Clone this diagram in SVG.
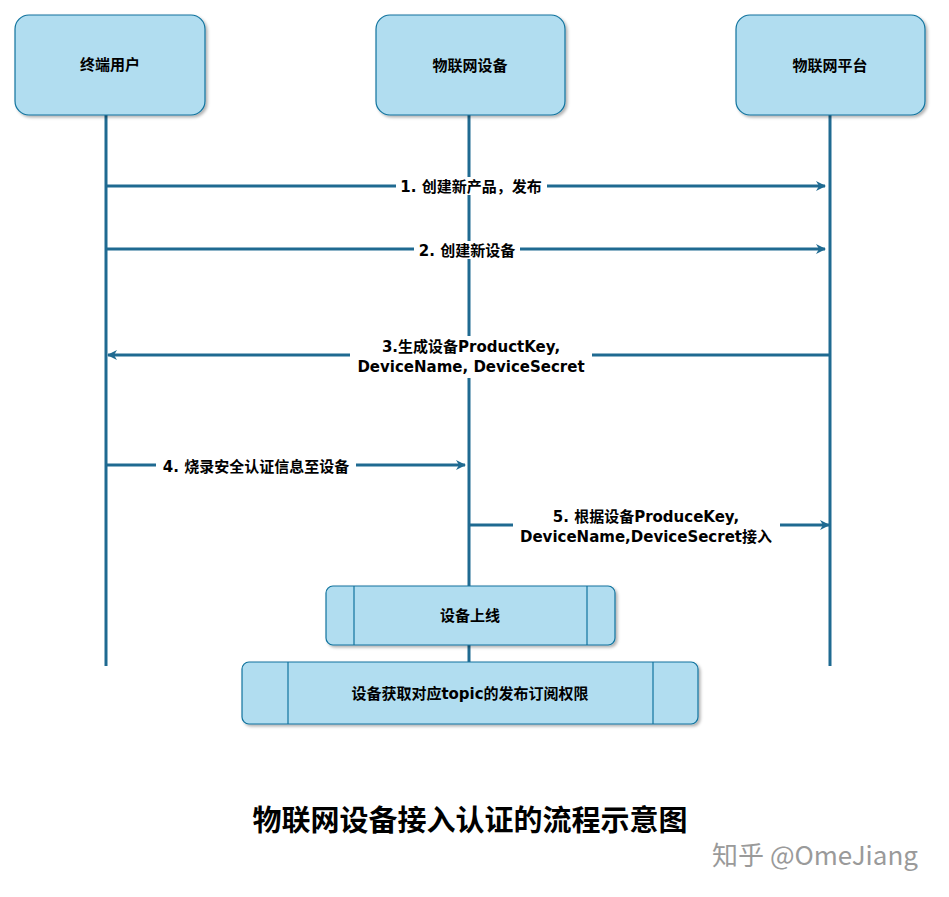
<svg xmlns="http://www.w3.org/2000/svg" width="949" height="897" viewBox="0 0 949 897">
<defs>
<marker id="ah" viewBox="0 0 10 10" refX="9" refY="5" markerWidth="10" markerHeight="10" markerUnits="userSpaceOnUse" orient="auto"><path d="M0,0 L10,5 L0,10 L3,5 z" fill="#1f6a91"/></marker>
<filter id="sh" x="-10%" y="-10%" width="120%" height="130%"><feDropShadow dx="2" dy="2" stdDeviation="1.5" flood-color="#000" flood-opacity="0.3"/></filter>
</defs>
<style>
.box{fill:#b1ddf0;stroke:#10739e;stroke-width:1.2;filter:url(#sh)}
.life{stroke:#1f6a91;stroke-width:3;fill:none}
.msg{stroke:#1f6a91;stroke-width:3;fill:none;marker-end:url(#ah)}
.t{font-family:"DejaVu Sans","Noto Sans CJK SC",sans-serif;font-weight:bold;font-size:15px;fill:#000;text-anchor:middle}
.lb{fill:#fff}
.in{stroke:#10739e;stroke-width:1.2}
</style>
<rect width="949" height="897" fill="#fff"/>
<g id="lifelines">
<line class="life" x1="106" y1="115" x2="106" y2="666"/>
<line class="life" x1="469" y1="115" x2="469" y2="662"/>
<line class="life" x1="830" y1="115" x2="830" y2="666"/>
</g>
<g id="n1"><rect class="box" x="15" y="15" width="190" height="100" rx="14"/><text class="t" x="110" y="70">终端用户</text></g>
<g id="n2"><rect class="box" x="376" y="15" width="189" height="100" rx="14"/><text class="t" x="470" y="71">物联网设备</text></g>
<g id="n3"><rect class="box" x="736" y="15" width="189" height="100" rx="14"/><text class="t" x="830" y="71">物联网平台</text></g>
<g id="connectors">
<line class="msg" x1="106" y1="186" x2="825" y2="186"/>
<line class="msg" x1="106" y1="249" x2="825" y2="249"/>
<line class="msg" x1="830" y1="355" x2="108" y2="355"/>
<line class="msg" x1="106" y1="465" x2="465" y2="465"/>
<line class="msg" x1="469" y1="525" x2="829" y2="525"/>
<rect class="lb" x="396" y="177" width="151" height="18"/>
<text class="t" x="471" y="192">1. 创建新产品，发布</text>
<rect class="lb" x="414" y="241" width="106" height="18"/>
<text class="t" x="467" y="256">2. 创建新设备</text>
<rect class="lb" x="350" y="336" width="242" height="42"/>
<text class="t" x="471" y="352">3.生成设备ProductKey,</text>
<text class="t" x="471" y="372">DeviceName, DeviceSecret</text>
<rect class="lb" x="156" y="457" width="200" height="18"/>
<text class="t" x="256" y="472">4. 烧录安全认证信息至设备</text>
<rect class="lb" x="513" y="507" width="267" height="40"/>
<text class="t" x="646" y="522">5. 根据设备ProduceKey,</text>
<text class="t" x="646" y="542">DeviceName,DeviceSecret接入</text>
</g>
<g id="p1"><rect class="box" x="326" y="586" width="289" height="59" rx="7"/><line class="in" x1="354" y1="586" x2="354" y2="645"/><line class="in" x1="587" y1="586" x2="587" y2="645"/><text class="t" x="470" y="621">设备上线</text></g>
<g id="p2"><rect class="box" x="242" y="662" width="456" height="62" rx="7"/><line class="in" x1="288" y1="662" x2="288" y2="724"/><line class="in" x1="653" y1="662" x2="653" y2="724"/><text class="t" x="470" y="699">设备获取对应topic的发布订阅权限</text></g>
<text x="470" y="831" style="font-family:'Noto Sans CJK SC',sans-serif;font-weight:bold;font-size:29px;text-anchor:middle">物联网设备接入认证的流程示意图</text>
<text x="815" y="865" style="font-family:'Noto Sans CJK SC',sans-serif;font-size:26px;fill:#9a9a9a;text-anchor:middle">知乎 @OmeJiang</text>
</svg>
